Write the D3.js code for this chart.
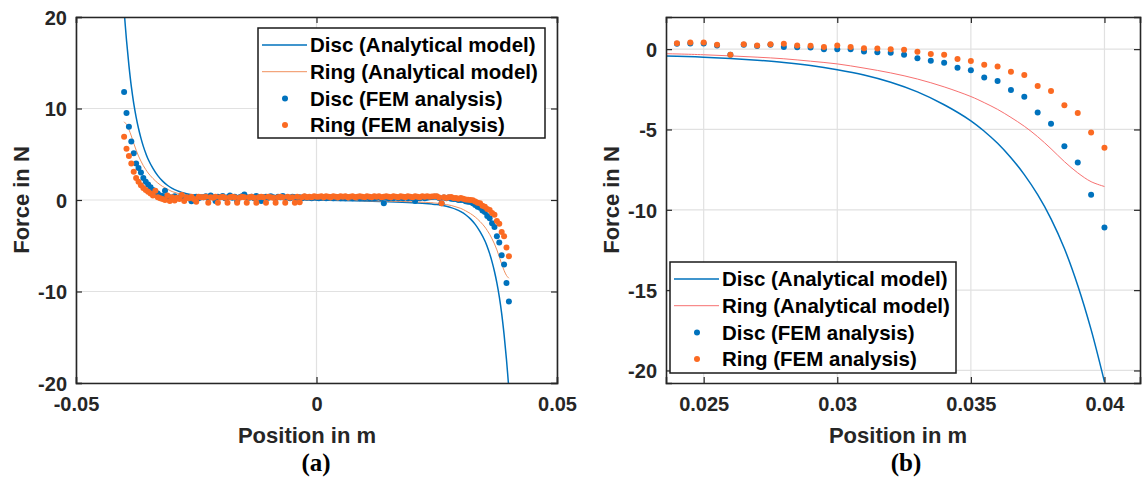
<!DOCTYPE html>
<html><head><meta charset="utf-8">
<script src="https://cdn.jsdelivr.net/npm/d3@7"></script>
<style>
body{margin:0;background:#fff;}
text{font-family:Arial,"Liberation Sans",Helvetica,sans-serif;}
</style></head>
<body><svg id="chart" width="1142" height="480"></svg>
<script>
// ---- Data ----
const seriesNames = ["Disc (Analytical model)", "Ring (Analytical model)", "Disc (FEM analysis)", "Ring (FEM analysis)"];

// analytical model curves
const xLine = [-0.04,-0.0395,-0.039,-0.0385,-0.038,-0.0375,-0.037,-0.0365,-0.036,-0.0355,-0.035,-0.034,-0.033,-0.032,-0.031,-0.03,-0.029,-0.028,-0.027,-0.026,-0.025,-0.024,-0.02,-0.015,-0.01,-0.005,0,0.005,0.01,0.015,0.02,0.024,0.025,0.026,0.027,0.028,0.029,0.03,0.031,0.032,0.033,0.034,0.035,0.0355,0.036,0.0365,0.037,0.0375,0.038,0.0385,0.039,0.0395,0.04];
const discLine = [20.71,17.46,14.71,12.41,10.56,9.06,7.81,6.76,5.86,5.11,4.46,3.46,2.66,2.06,1.61,1.28,1.02,0.83,0.69,0.58,0.5,0.45,0.3,0.18,0.1,0.05,0,-0.05,-0.1,-0.18,-0.3,-0.45,-0.5,-0.58,-0.69,-0.83,-1.02,-1.28,-1.61,-2.06,-2.66,-3.46,-4.46,-5.11,-5.86,-6.76,-7.81,-9.06,-10.56,-12.41,-14.71,-17.46,-20.71];
const ringLine = [8.55,8.25,7.7,7.0,6.2,5.45,4.8,4.25,3.75,3.33,2.95,2.35,1.86,1.48,1.18,0.92,0.75,0.6,0.5,0.42,0.35,0.3,0.2,0.13,0.08,0.03,0,-0.03,-0.08,-0.13,-0.2,-0.3,-0.35,-0.42,-0.5,-0.6,-0.75,-0.92,-1.18,-1.48,-1.86,-2.35,-2.95,-3.33,-3.75,-4.25,-4.8,-5.45,-6.2,-7.0,-7.7,-8.25,-8.55];

// FEM sample positions (m)
const xFEM = [-0.04,-0.0395,-0.039,-0.0385,-0.038,-0.0375,-0.037,-0.0365,-0.036,-0.0355,-0.035,-0.0345,-0.034,-0.0335,-0.033,-0.0325,-0.032,-0.0315,-0.031,-0.0305,-0.03,-0.0295,-0.029,-0.0285,-0.028,-0.0275,-0.027,-0.0265,-0.026,-0.0255,-0.025,-0.0245,-0.024,-0.0235,-0.023,-0.0225,-0.022,-0.0215,-0.021,-0.0205,-0.02,-0.0195,-0.019,-0.0185,-0.018,-0.0175,-0.017,-0.0165,-0.016,-0.0155,-0.015,-0.0145,-0.014,-0.0135,-0.013,-0.0125,-0.012,-0.0115,-0.011,-0.0105,-0.01,-0.0095,-0.009,-0.0085,-0.008,-0.0075,-0.007,-0.0065,-0.006,-0.0055,-0.005,-0.0045,-0.004,-0.0035,-0.003,-0.0025,-0.002,-0.0015,-0.001,-0.0005,0,0.0005,0.001,0.0015,0.002,0.0025,0.003,0.0035,0.004,0.0045,0.005,0.0055,0.006,0.0065,0.007,0.0075,0.008,0.0085,0.009,0.0095,0.01,0.0105,0.011,0.0115,0.012,0.0125,0.013,0.0135,0.014,0.0145,0.015,0.0155,0.016,0.0165,0.017,0.0175,0.018,0.0185,0.019,0.0195,0.02,0.0205,0.021,0.0215,0.022,0.0225,0.023,0.0235,0.024,0.0245,0.025,0.0255,0.026,0.0265,0.027,0.0275,0.028,0.0285,0.029,0.0295,0.03,0.0305,0.031,0.0315,0.032,0.0325,0.033,0.0335,0.034,0.0345,0.035,0.0355,0.036,0.0365,0.037,0.0375,0.038,0.0385,0.039,0.0395,0.04];
const discFEM = [
 11.8,9.5,8.0,6.4,5.1,4.0,3.5,3.0,2.4,2.0,
 1.7,1.4,1.1,0.9,0.7,0.5,0.45,1.0,0.35,0.3,
 0.25,0.4,0.2,0.3,0.35,0.1,0.3,0.25,-0.15,0.3,
 0.35,0.2,0.3,
 0.3,0.4,0.2,0.5,0.3,-0.1,0.35,0.3,0.45,0.2,
 0.3,0.5,0.25,0.35,-0.15,0.3,0.4,0.6,0.3,0.25,
 0.35,0.2,0.45,0.3,-0.1,0.3,0.35,0.25,0.4,0.3,
 0.2,0.35,0.3,0.45,0.25,0.3,0.2,0.35,0.3,0.25,
 0.3,0.2,0.35,0.25,0.3,0.2,0.3,
 0.25,
 0.2,0.25,0.3,0.2,0.25,0.3,0.2,0.25,0.3,0.2,
 0.25,0.2,0.3,0.25,0.2,0.25,0.3,0.2,0.25,0.2,
 0.3,0.2,0.25,0.2,0.25,0.3,0.2,-0.35,0.25,0.2,
 0.25,0.2,0.3,0.2,0.25,0.2,0.3,0.2,0.25,0.2,
 -0.1,0.25,0.2,0.3,0.2,0.25,0.3,
 0.33,0.35,0.35,0.22,-0.35,0.27,0.2,0.27,0.14,0.12,0.10,0,0,0,-0.15,-0.19,-0.23,-0.35,-0.56,-0.73,-0.85,-1.16,-1.32,-1.76,-1.99,-2.54,-2.96,-3.95,-4.65,-6.04,-7.05,-9.07,-11.1];
const ringFEM = [
 6.9,5.6,4.8,4.0,3.1,2.4,2.0,1.6,1.3,1.1,
 0.9,0.7,0.5,1.0,0.3,0.2,0.1,0.0,0.5,-0.1,
 0.3,-0.05,0.25,0.1,0.55,-0.1,0.3,0.2,0.35,0.1,
 -0.2,0.35,0.3,
 0.3,0.35,-0.3,0.3,0.25,0.35,-0.3,0.3,0.35,0.25,
 -0.3,0.3,0.35,0.3,-0.3,0.25,0.35,0.3,-0.3,0.3,
 0.35,0.25,-0.3,0.3,0.35,0.3,-0.3,0.35,0.3,0.25,
 -0.3,0.3,0.35,0.3,-0.3,0.35,0.25,0.3,-0.3,0.35,
 -0.25,0.3,0.4,0.3,0.35,0.3,0.4,
 0.35,
 0.35,0.4,0.3,0.4,0.35,0.3,0.4,0.35,0.3,0.4,
 0.35,0.4,0.3,0.35,0.4,0.3,0.35,0.4,0.35,0.3,
 0.4,0.35,0.3,0.4,0.35,0.4,0.3,0.35,0.4,0.35,
 0.3,0.4,0.35,0.3,0.4,0.35,0.3,0.4,0.35,0.3,
 0.4,0.35,0.3,0.4,0.35,0.4,0.35,
 0.37,0.41,0.41,0.27,-0.35,0.31,0.23,0.31,0.33,0.23,0.21,0.14,0.23,0.14,0.06,0.04,0,-0.04,-0.17,-0.31,-0.35,-0.62,-0.74,-0.97,-1.08,-1.41,-1.61,-2.29,-2.6,-3.5,-3.97,-5.19,-6.14];

// axis ticks
const xTicksA = [-0.05, 0, 0.05];
const yTicksA = [-20, -10, 0, 10, 20];
const xTicksB = [0.025, 0.03, 0.035, 0.04];
const yTicksB = [-20, -15, -10, -5, 0];
const xDomainA = [-0.05, 0.05], yDomainA = [-20, 20];
const xDomainB = [0.02359, 0.04133], yDomainB = [-20.78, 2];
const axisLabelX = "Position in m", axisLabelY = "Force in N";

// ---- Drawing ----
const svg = d3.select("#chart");
const BLUE = "#0072BD", ORANGE = "#FB6A22";
const fmt = v => (v === 0 ? "0" : String(v));

function panel(o) {
  const x = d3.scaleLinear().domain(o.xd).range([o.left, o.right]);
  const y = d3.scaleLinear().domain(o.yd).range([o.bottom, o.top]);
  const g = svg.append("g");
  const cid = "clip" + o.id;
  svg.append("clipPath").attr("id", cid).append("rect")
    .attr("x", o.left).attr("y", o.top).attr("width", o.right - o.left).attr("height", o.bottom - o.top);
  // grid
  g.selectAll(".gx").data(o.xt).join("line").attr("x1", d => x(d)).attr("x2", d => x(d))
    .attr("y1", o.top).attr("y2", o.bottom).attr("stroke", "#e1e1e1").attr("stroke-width", 1.2);
  g.selectAll(".gy").data(o.yt).join("line").attr("y1", d => y(d)).attr("y2", d => y(d))
    .attr("x1", o.left).attr("x2", o.right).attr("stroke", "#e1e1e1").attr("stroke-width", 1.2);
  const pg = g.append("g").attr("clip-path", `url(#${cid})`);
  const lineGen = d3.line().x(d => x(d[0])).y(d => y(d[1])).curve(d3.curveCatmullRom.alpha(0.5));
  pg.append("path").datum(xLine.map((v, i) => [v, discLine[i]])).attr("d", lineGen)
    .attr("fill", "none").attr("stroke", BLUE).attr("stroke-width", 1.5);
  pg.append("path").datum(xLine.map((v, i) => [v, ringLine[i]])).attr("d", lineGen)
    .attr("fill", "none").attr("stroke", o.ringColor).attr("stroke-width", 1);
  const inDom = i => xFEM[i] >= o.xd[0] && xFEM[i] <= o.xd[1];
  const idx = d3.range(xFEM.length).filter(inDom);
  pg.selectAll(".dd").data(idx).join("circle").attr("cx", i => x(xFEM[i])).attr("cy", i => y(discFEM[i]))
    .attr("r", 3).attr("fill", BLUE);
  pg.selectAll(".dr").data(idx).join("circle").attr("cx", i => x(xFEM[i])).attr("cy", i => y(ringFEM[i]))
    .attr("r", 3).attr("fill", ORANGE);
  // axes (ticks inside, box)
  const axCol = "#262626";
  const ax = [
    d3.axisBottom(x).tickValues(o.xt).tickSize(-6).tickFormat(fmt),
    d3.axisLeft(y).tickValues(o.yt).tickSize(-6).tickFormat(fmt),
    d3.axisTop(x).tickValues(o.xt).tickSize(-6).tickFormat(""),
    d3.axisRight(y).tickValues(o.yt).tickSize(-6).tickFormat("")
  ];
  const tr = [`translate(0,${o.bottom})`, `translate(${o.left},0)`, `translate(0,${o.top})`, `translate(${o.right},0)`];
  ax.forEach((a, k) => {
    const ag = g.append("g").attr("transform", tr[k]).call(a);
    ag.select(".domain").attr("stroke", axCol).attr("stroke-width", 1.6);
    ag.selectAll(".tick line").attr("stroke", axCol).attr("stroke-width", 1.2);
    ag.selectAll("text").attr("fill", axCol).attr("font-size", 20).attr("font-weight", "bold");
    if (k === 0) ag.selectAll("text").attr("dy", "0").attr("y", 28);
    if (k === 1) ag.selectAll("text").attr("x", -9).attr("dy", "0.36em");
  });
  // axis labels
  g.append("text").attr("x", o.xlx).attr("y", 443).attr("text-anchor", "middle")
    .attr("font-size", 22).attr("font-weight", "bold").attr("fill", axCol).text(axisLabelX);
  g.append("text").attr("transform", `translate(${o.ylx},200) rotate(-90)`).attr("text-anchor", "middle")
    .attr("font-size", 22).attr("font-weight", "bold").attr("fill", axCol).text(axisLabelY);
  g.append("text").attr("x", o.capx).attr("y", 471).attr("text-anchor", "middle")
    .style("font-family", "'Liberation Serif','Times New Roman',serif")
    .attr("font-size", 25).attr("font-weight", "bold").attr("fill", "#000").text(o.cap);
  // legend
  const L = o.leg;
  const lg = g.append("g");
  lg.append("rect").attr("x", L.x).attr("y", L.y).attr("width", L.w).attr("height", L.h)
    .attr("fill", "#fff").attr("stroke", "#1a1a1a").attr("stroke-width", 1.5);
  seriesNames.forEach((name, k) => {
    const cy = L.y + 17 + k * L.dy;
    if (k < 2) {
      lg.append("line").attr("x1", L.x + 4).attr("x2", L.x + 49).attr("y1", cy).attr("y2", cy)
        .attr("stroke", k === 0 ? BLUE : o.ringColor).attr("stroke-width", k === 0 ? 1.5 : 1);
    } else {
      lg.append("circle").attr("cx", L.x + 27).attr("cy", cy).attr("r", 3).attr("fill", k === 2 ? BLUE : ORANGE);
    }
    lg.append("text").attr("x", L.x + 52).attr("y", cy).attr("dy", "0.36em").attr("font-size", 20.5)
      .attr("font-weight", "bold").attr("fill", "#000").text(name);
  });
}

panel({id: "a", left: 76, right: 557, top: 17, bottom: 383, xd: xDomainA, yd: yDomainA,
  xt: xTicksA, yt: yTicksA, ringColor: "#F0905E", xlx: 307, ylx: 29, capx: 316, cap: "(a)",
  leg: {x: 258, y: 28, w: 287, h: 110, dy: 26.7}});
panel({id: "b", left: 666, right: 1140, top: 17, bottom: 383, xd: xDomainB, yd: yDomainB,
  xt: xTicksB, yt: yTicksB, ringColor: "#F77070", xlx: 898, ylx: 619, capx: 906, cap: "(b)",
  leg: {x: 670, y: 262, w: 286, h: 111, dy: 26.7}});
</script></body></html>
